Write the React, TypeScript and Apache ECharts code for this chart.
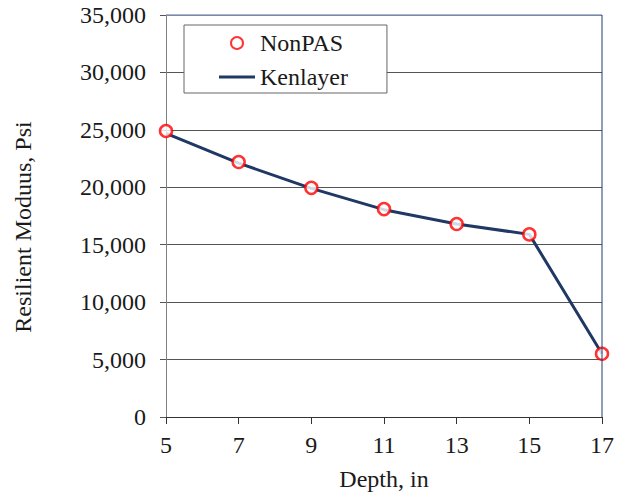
import React, { useEffect, useRef } from "react";
import * as echarts from "echarts";

const depths = ["5", "7", "9", "11", "13", "15", "17"];
const nonPAS = [24900, 22200, 19950, 18100, 16800, 15900, 5500];
const kenlayer = [24700, 22100, 19900, 18050, 16800, 15900, 5500];
const yTicks = { min: 0, max: 35000, interval: 5000 };

const FONT = "Liberation Serif";
const TEXT = "#1a1a1a";
const FS = 24;

export default function App() {
  const ref = useRef<HTMLDivElement>(null);
  useEffect(() => {
    if (!ref.current) return;
    const chart = echarts.init(ref.current, undefined, { renderer: "svg" });
    const gl = 166, gr = 25, gt = 15, gb = 80;
    const W = 627, H = 497;
    chart.setOption({
      animation: false,
      backgroundColor: "#ffffff",
      grid: { left: gl, right: gr, top: gt, bottom: gb, containLabel: false },
      legend: {
        orient: "vertical",
        left: 184,
        top: 25,
        padding: [6, 39, 4, 35],
        itemGap: 10,
        itemWidth: 36,
        itemHeight: 12,
        itemTextGap: 2,
        backgroundColor: "#ffffff",
        borderColor: "#666666",
        borderWidth: 1,
        textStyle: { fontFamily: FONT, fontSize: FS, color: TEXT },
        data: [
          { name: "NonPAS", icon: "circle" },
          { name: "Kenlayer", icon: "path://M0,0 L36,0 L36,3 L0,3 Z" },
        ],
        z: 10,
      },
      xAxis: {
        type: "category",
        data: depths,
        boundaryGap: false,
        name: "Depth, in",
        nameLocation: "middle",
        nameGap: 50,
        nameTextStyle: { fontFamily: FONT, fontSize: FS, color: TEXT },
        axisLine: { lineStyle: { color: "#333333", width: 1 } },
        axisTick: { show: true, length: 7, lineStyle: { color: "#333333" }, alignWithLabel: true },
        axisLabel: { fontFamily: FONT, fontSize: FS, color: TEXT, margin: 16 },
        splitLine: { show: false },
      },
      yAxis: {
        type: "value",
        min: yTicks.min,
        max: yTicks.max,
        interval: yTicks.interval,
        axisLine: { show: true, lineStyle: { color: "#808080", width: 1 } },
        axisTick: { show: true, length: 6, lineStyle: { color: "#555555" } },
        axisLabel: {
          fontFamily: FONT,
          fontSize: FS,
          color: TEXT,
          margin: 20,
          formatter: (v: number) => v.toLocaleString("en-US"),
        },
        splitLine: { show: true, lineStyle: { color: "#555555", width: 1 } },
      },
      graphic: [
        {
          type: "line",
          shape: { x1: gl, y1: gt, x2: W - gr, y2: gt },
          style: { stroke: "#8C9DC0", lineWidth: 1.5 },
          z: 5,
        },
        {
          type: "line",
          shape: { x1: W - gr, y1: gt, x2: W - gr, y2: H - gb },
          style: { stroke: "#1F3D7A", lineWidth: 1 },
          z: 5,
        },
        {
          type: "text",
          x: 23,
          y: 227,
          rotation: Math.PI / 2,
          style: {
            text: "Resilient Moduus, Psi",
            fontFamily: FONT,
            fontSize: FS,
            fill: TEXT,
            align: "center",
            verticalAlign: "middle",
          },
        },
      ],
      series: [
        {
          name: "Kenlayer",
          type: "line",
          data: kenlayer,
          symbol: "none",
          lineStyle: { color: "#1F3864", width: 3 },
          itemStyle: { color: "#1F3864" },
          z: 2,
        },
        {
          name: "NonPAS",
          type: "scatter",
          data: nonPAS,
          symbol: "circle",
          symbolSize: 12,
          itemStyle: { color: "#ffffff", borderColor: "#ff0000", borderWidth: 2.5 },
          z: 3,
        },
      ],
    });
    return () => chart.dispose();
  }, []);
  return <div ref={ref} style={{ width: 627, height: 497, position: "absolute", left: 0, top: 0 }} />;
}
